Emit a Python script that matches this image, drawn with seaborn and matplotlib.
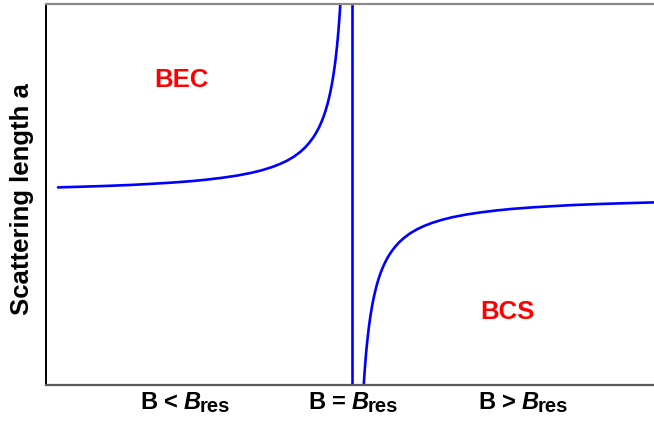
import matplotlib
matplotlib.use("Agg")
import matplotlib.pyplot as plt
import seaborn as sns
import pandas as pd

sns.set_theme(style="white")
plt.rcParams["font.family"] = ["Liberation Sans", "DejaVu Sans"]
plt.rcParams["mathtext.fontset"] = "custom"
plt.rcParams["mathtext.rm"] = "Liberation Sans:bold"
plt.rcParams["mathtext.it"] = "Liberation Sans:bold:italic"
plt.rcParams["mathtext.bf"] = "Liberation Sans:bold"
plt.rcParams["text.color"] = "black"
plt.rcParams["axes.labelcolor"] = "black"

# Magnetic field relative to resonance (arb. units) and scattering length (arb. units)
b_below = [-2.94, -2.7, -2.45, -2.2, -2.0, -1.8, -1.6, -1.45, -1.3, -1.15, -1.0, -0.9,
           -0.8, -0.72, -0.65, -0.58, -0.52, -0.47, -0.43, -0.39, -0.36, -0.33, -0.305,
           -0.285, -0.265, -0.245, -0.23, -0.215, -0.2, -0.19, -0.18, -0.17, -0.16,
           -0.15, -0.142, -0.135, -0.128, -0.122, -0.116, -0.11]
a_below = [1.076, 1.083, 1.091, 1.101, 1.112, 1.124, 1.139, 1.154, 1.172, 1.194, 1.223, 1.248,
           1.279, 1.310, 1.343, 1.384, 1.429, 1.474, 1.519, 1.572, 1.619, 1.676, 1.731,
           1.782, 1.841, 1.910, 1.970, 2.037, 2.115, 2.174, 2.239, 2.312, 2.394,
           2.487, 2.570, 2.652, 2.742, 2.828, 2.922, 3.027]

b_above = [0.11, 0.116, 0.122, 0.128, 0.135, 0.142, 0.15, 0.16, 0.17, 0.18, 0.19, 0.2,
           0.215, 0.23, 0.245, 0.265, 0.285, 0.305, 0.33, 0.36, 0.39, 0.43, 0.47, 0.52,
           0.58, 0.65, 0.72, 0.8, 0.9, 1.0, 1.15, 1.3, 1.45, 1.6, 1.8, 2.0, 2.2, 2.45,
           2.7, 3.05]
a_above = [-1.027, -0.922, -0.828, -0.742, -0.652, -0.570, -0.487, -0.394, -0.312, -0.239,
           -0.174, -0.115, -0.037, 0.030, 0.090, 0.159, 0.218, 0.269, 0.324, 0.381, 0.428,
           0.481, 0.526, 0.571, 0.616, 0.657, 0.690, 0.721, 0.752, 0.777, 0.806, 0.828,
           0.846, 0.861, 0.876, 0.888, 0.899, 0.909, 0.917, 0.927]

b_res = 0.0
tick_pos = [-1.67, 0.01, 1.71]
tick_main = [r"B < $B$", r"B = $B$", r"B > $B$"]
tick_sub = ["res", "res", "res"]

df_below = pd.DataFrame({"B": b_below, "a": a_below})
df_above = pd.DataFrame({"B": b_above, "a": a_above})

fig = plt.figure(figsize=(6.54, 4.27), dpi=100)
ax = fig.add_axes([46 / 654, 41 / 427, 1 - 46 / 654, 381 / 427])

blue = "#0000ff"
sns.lineplot(data=df_below, x="B", y="a", sort=False, color=blue, lw=1.9, ax=ax)
sns.lineplot(data=df_above, x="B", y="a", sort=False, color=blue, lw=1.9, ax=ax)
ax.axvline(b_res, color=blue, lw=1.9)

ax.set_xlim(-3.06, 3.02)
ax.set_ylim(-0.90, 2.91)

ax.set_xticks(tick_pos)
ax.set_xticklabels([])
ax.set_yticks([])
ax.tick_params(axis="x", length=0)
ax.set_xlabel("")
ax.set_ylabel("Scattering length a", fontsize=18.5, fontweight="bold", color="black")
ax.yaxis.set_label_coords(-0.019, 0.49)

ax.spines["right"].set_visible(False)
ax.spines["left"].set_color("black")
ax.spines["left"].set_linewidth(1.4)
ax.spines["top"].set_color("#8a8a8a")
ax.spines["top"].set_linewidth(1.6)
ax.spines["bottom"].set_color("#5a5a5a")
ax.spines["bottom"].set_linewidth(1.6)

ax.text(-1.71, 2.16, "BEC", color="red", fontsize=18.5, fontweight="bold", ha="center", va="center")
ax.text(1.55, -0.16, "BCS", color="red", fontsize=18.5, fontweight="bold", ha="center", va="center")

# Category labels under the axis: main text plus a larger-than-usual subscript
renderer = fig.canvas.get_renderer()
main_size, sub_size = 17, 14.5
baseline_pts = -16.5  # main baseline below the axis, in points
sub_drop_pts = 2.5
gap_pts = -1.5
px2pt = 72 / fig.dpi
for pos, main, sub in zip(tick_pos, tick_main, tick_sub):
    t_main = ax.annotate(main, xy=(pos, 0), xycoords=("data", "axes fraction"),
                         xytext=(0, baseline_pts), textcoords="offset points",
                         fontsize=main_size, fontweight="bold", ha="left", va="baseline",
                         annotation_clip=False)
    t_sub = ax.annotate(sub, xy=(pos, 0), xycoords=("data", "axes fraction"),
                        xytext=(0, baseline_pts - sub_drop_pts), textcoords="offset points",
                        fontsize=sub_size, fontweight="bold", ha="left", va="baseline",
                        annotation_clip=False)
    w_main = t_main.get_window_extent(renderer).width * px2pt
    w_sub = t_sub.get_window_extent(renderer).width * px2pt
    total = w_main + w_sub + gap_pts
    t_main.set_position((-total / 2, baseline_pts))
    t_sub.set_position((-total / 2 + w_main + gap_pts, baseline_pts - sub_drop_pts))

fig.savefig("out.png", dpi=100)
